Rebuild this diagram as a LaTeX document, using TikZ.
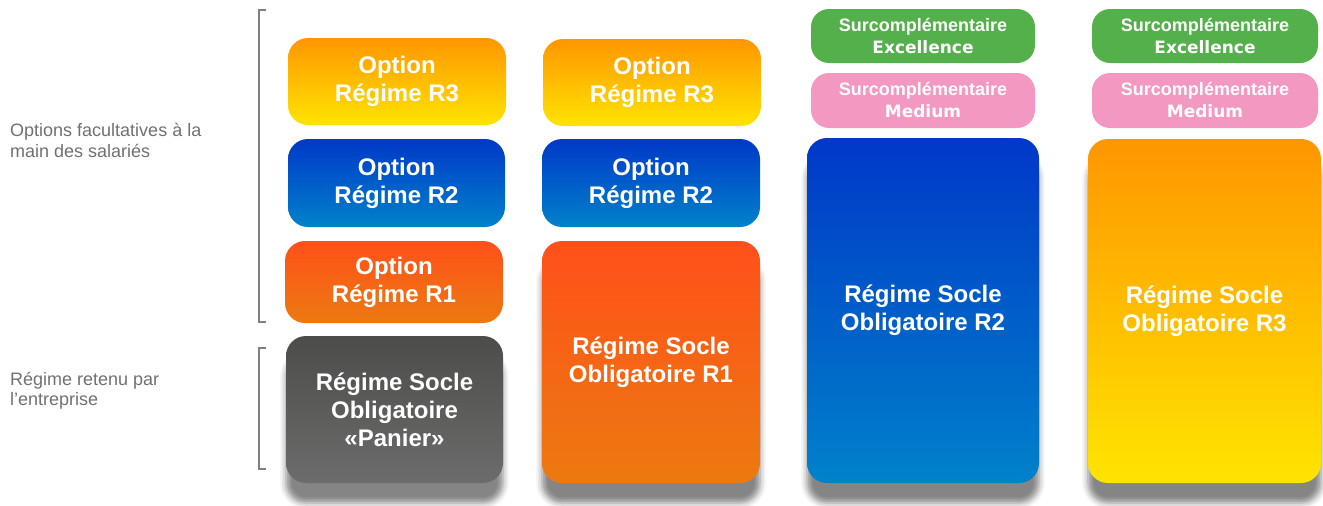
\documentclass[tikz,border=0pt]{standalone}
\usepackage{fontspec}
\setmainfont{Liberation Sans}
\newfontfamily\heavyfont{DejaVu Sans}
\usetikzlibrary{shadows.blur}
\definecolor{orA}{RGB}{255,150,0}
\definecolor{yeB}{RGB}{255,228,0}
\definecolor{blA}{RGB}{0,56,200}
\definecolor{blB}{RGB}{0,130,202}
\definecolor{rdA}{RGB}{255,80,26}
\definecolor{rdB}{RGB}{236,122,16}
\definecolor{gyA}{RGB}{76,76,74}
\definecolor{gyB}{RGB}{108,108,108}
\definecolor{grn}{RGB}{84,176,74}
\definecolor{pnk}{RGB}{243,152,193}
\definecolor{lbl}{RGB}{112,112,112}
\definecolor{brk}{RGB}{128,128,128}
\begin{document}
\begin{tikzpicture}[x=1pt,y=-1pt,
  box/.style={rounded corners=20pt, text=white, align=center, inner sep=0pt,
    font=\bfseries\fontsize{24}{28}\selectfont},
  sbox/.style={rounded corners=18pt, text=white, align=center, inner sep=0pt,
    font=\bfseries\fontsize{18}{22}\selectfont},
  shad/.style={blur shadow={shadow xshift=0pt, shadow yshift=-20pt, shadow blur radius=6pt, shadow opacity=48}},
  yel/.style={top color=orA, bottom color=yeB},
  blu/.style={top color=blA, bottom color=blB},
  red/.style={top color=rdA, bottom color=rdB},
  gry/.style={top color=gyA, bottom color=gyB},
  lab/.style={anchor=north west, inner sep=0pt, align=left, text=lbl,
    font=\fontsize{18}{20.5}\selectfont},
  bracket/.style={draw=brk, line width=1.6pt}]
\useasboundingbox (0,0) rectangle (1323,506);

% labels
\node[lab] (l1) at (10,123.5) {Options facultatives à la\\main des salariés};
\node[lab] (l2) at (10,372) {Régime retenu par\\l’entreprise};

% brackets
\draw[bracket] (266,10) -- (259,10) -- (259,322) -- (266,322);
\draw[bracket] (266,348) -- (259,348) -- (259,469) -- (266,469);

% column 1
\node[box, yel, minimum width=218pt, minimum height=87pt] (o3a) at (397,81.5) {Option\\Régime R3};
\node[box, blu, minimum width=217pt, minimum height=88pt] (o2a) at (396.5,183) {Option\\Régime R2};
\node[box, red, minimum width=218pt, minimum height=82pt] (o1a) at (394,282) {Option\\Régime R1};
\node[box, gry, shad, minimum width=217pt, minimum height=147pt] (s0) at (394.5,409.5) {Régime Socle\\Obligatoire\\«Panier»};

% column 2
\node[box, yel, minimum width=218pt, minimum height=87pt] (o3b) at (652,82.5) {Option\\Régime R3};
\node[box, blu, minimum width=218pt, minimum height=88pt] (o2b) at (651,183) {Option\\Régime R2};
\node[box, red, shad, minimum width=218pt, minimum height=242pt] (s1) at (651,362) {Régime Socle\\Obligatoire R1};

% column 3
\node[sbox, fill=grn, minimum width=224pt, minimum height=54pt] (e3) at (923,36) {Surcomplémentaire\\{\heavyfont\bfseries\fontsize{17}{22}\selectfont Excellence}};
\node[sbox, fill=pnk, minimum width=224pt, minimum height=55pt] (m3) at (923,100.5) {Surcomplémentaire\\{\heavyfont\bfseries\fontsize{17}{22}\selectfont Medium}};
\node[box, blu, shad, minimum width=232pt, minimum height=345pt] (s2) at (923,310.5) {Régime Socle\\Obligatoire R2};

% column 4
\node[sbox, fill=grn, minimum width=226pt, minimum height=54pt] (e4) at (1205,36) {Surcomplémentaire\\{\heavyfont\bfseries\fontsize{17}{22}\selectfont Excellence}};
\node[sbox, fill=pnk, minimum width=226pt, minimum height=55pt] (m4) at (1205,100.5) {Surcomplémentaire\\{\heavyfont\bfseries\fontsize{17}{22}\selectfont Medium}};
\node[box, yel, shad, minimum width=233pt, minimum height=344pt] (s3) at (1204.5,311) {Régime Socle\\Obligatoire R3};
\end{tikzpicture}
\end{document}
